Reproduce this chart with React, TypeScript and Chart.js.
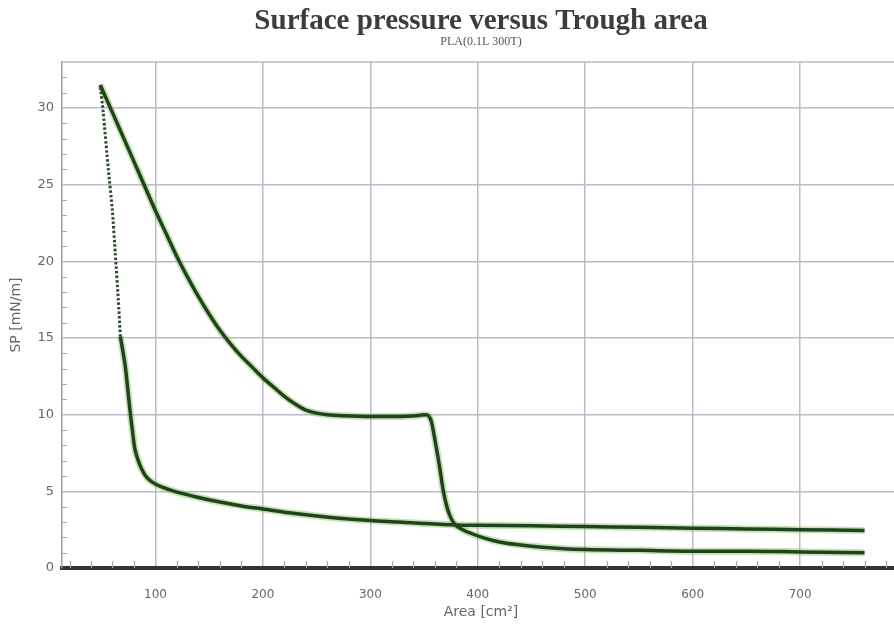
import React, { useEffect, useRef } from 'react';
import { Chart, registerables } from 'chart.js';

Chart.register(...registerables);

const TITLE = 'Surface pressure versus Trough area';
const SUBTITLE = 'PLA(0.1L 300T)';
const X_TITLE = 'Area [cm²]';
const Y_TITLE = 'SP [mN/m]';

const xMajorTicks = [100, 200, 300, 400, 500, 600, 700];
const yMajorTicks = [0, 5, 10, 15, 20, 25, 30];

// Upper loop branch: from the top down to the plateau, then the drop to ~1
const areaA = [48.6, 60, 70, 80, 90, 100, 110, 120, 130, 140, 150, 160, 170, 180, 190, 200, 210, 220, 230, 240, 250, 260, 275, 300, 325, 345, 352, 355, 357, 360, 364, 368, 373, 378, 386, 394, 404, 420, 440, 460, 480, 500, 550, 600, 650, 700, 760];
const spA = [31.5, 29.7, 28.1, 26.5, 24.9, 23.3, 21.8, 20.3, 18.95, 17.7, 16.55, 15.5, 14.6, 13.8, 13.1, 12.4, 11.8, 11.2, 10.7, 10.3, 10.1, 10.0, 9.93, 9.88, 9.88, 9.95, 10.0, 9.85, 9.5, 8.4, 6.8, 5.0, 3.6, 2.9, 2.5, 2.25, 2.0, 1.7, 1.5, 1.35, 1.25, 1.2, 1.15, 1.1, 1.1, 1.05, 1.0];

// Lower branch: slow rise from the right, then the steep rise at small area
const areaB = [760, 700, 650, 600, 550, 500, 450, 400, 380, 350, 326, 300, 263, 230, 200, 180, 160, 140, 120, 105, 97, 92, 89, 85, 81, 79, 76.6, 74, 72, 69.5, 67.3];
const spB = [2.45, 2.5, 2.55, 2.6, 2.65, 2.7, 2.75, 2.78, 2.8, 2.9, 3.0, 3.1, 3.3, 3.55, 3.85, 4.05, 4.3, 4.6, 4.95, 5.3, 5.6, 5.9, 6.2, 6.8, 7.7, 8.7, 10.1, 11.8, 13.1, 14.2, 15.1];

// Steep, dotted part of the lower branch
const areaBSteep = [67.3, 65.4, 62.6, 59.8, 56.1, 51.4, 48.6];
const spBSteep = [15.1, 17.5, 20.5, 23.4, 26.0, 29.7, 31.5];

const toPts = (xs: number[], ys: number[]) => xs.map((x, i) => ({ x, y: ys[i] }));

const CORE = '#22421f';
const GLOW = 'rgba(110,185,70,0.4)';
const GRID = '#bcbcc8';

const extrasPlugin = {
  id: 'extras',
  beforeDatasetsDraw(chart: any) {
    const { ctx, chartArea, scales } = chart;
    const xs = scales.x;
    const ys = scales.y;
    ctx.save();
    ctx.strokeStyle = GRID;
    ctx.lineWidth = 1.5;
    ctx.beginPath();
    ctx.moveTo(chartArea.left, chartArea.top);
    ctx.lineTo(chartArea.right, chartArea.top);
    ctx.lineTo(chartArea.right, chartArea.bottom);
    ctx.stroke();
    ctx.strokeStyle = '#a6a6b2';
    ctx.lineWidth = 1.2;
    ctx.beginPath();
    for (let v = 1; v < 33; v++) {
      if (v % 5 === 0) continue;
      const py = Math.round(ys.getPixelForValue(v)) + 0.5;
      ctx.moveTo(chartArea.left, py);
      ctx.lineTo(chartArea.left + 5, py);
    }
    for (let v = 20; v < 800; v += 20) {
      if (v % 100 === 0) continue;
      const px = Math.round(xs.getPixelForValue(v)) + 0.5;
      if (px < chartArea.left || px > chartArea.right) continue;
      ctx.moveTo(px, chartArea.bottom);
      ctx.lineTo(px, chartArea.bottom - 7);
    }
    ctx.stroke();
    ctx.restore();
  },
};

export default function App() {
  const ref = useRef<HTMLCanvasElement | null>(null);

  useEffect(() => {
    if (!ref.current) return;
    const chart = new Chart(ref.current, {
      type: 'line',
      data: {
        datasets: [
          { data: toPts(areaA, spA), borderColor: GLOW, borderWidth: 7, pointRadius: 0, cubicInterpolationMode: 'monotone', order: 3 },
          { data: toPts(areaB, spB), borderColor: GLOW, borderWidth: 7, pointRadius: 0, tension: 0.3, order: 3 },
          { data: toPts(areaA, spA), borderColor: CORE, borderWidth: 3.5, pointRadius: 0, cubicInterpolationMode: 'monotone', order: 1 },
          { data: toPts(areaB, spB), borderColor: CORE, borderWidth: 3.5, pointRadius: 0, tension: 0.3, order: 1 },
          { data: toPts(areaBSteep, spBSteep), borderColor: '#2e4c2b', borderWidth: 3, borderDash: [2.5, 2], pointRadius: 0, tension: 0.2, order: 1 },
        ],
      },
      options: {
        responsive: false,
        animation: false,
        events: [],
        layout: { padding: 0 },
        plugins: {
          legend: { display: false },
          tooltip: { enabled: false },
          title: {
            display: true,
            text: TITLE,
            fullSize: false,
            color: '#3c3c3c',
            font: { family: 'Liberation Serif', size: 29, weight: 'bold', lineHeight: 1 },
            padding: { top: 7, bottom: 0 },
          },
          subtitle: {
            display: true,
            text: SUBTITLE,
            fullSize: false,
            color: '#555',
            font: { family: 'Liberation Serif', size: 12, lineHeight: 1 },
            padding: { top: 0, bottom: 14 },
          },
        },
        scales: {
          x: {
            type: 'linear',
            min: 13,
            max: 793,
            afterFit: (s: any) => { s.height = 58; },
            afterBuildTicks: (s: any) => { s.ticks = xMajorTicks.map((value) => ({ value })); },
            grid: { color: GRID, lineWidth: 1.5, drawTicks: false },
            border: { color: '#333', width: 4 },
            ticks: { color: '#666', padding: 20, font: { family: 'DejaVu Sans', size: 12 }, maxRotation: 0 },
            title: { display: true, text: X_TITLE, color: '#666', font: { family: 'DejaVu Sans', size: 14, lineHeight: 1.2 }, padding: { top: 0, bottom: 5 } },
          },
          y: {
            type: 'linear',
            min: 0,
            max: 33,
            afterFit: (s: any) => { s.width = 62; },
            afterBuildTicks: (s: any) => { s.ticks = yMajorTicks.map((value) => ({ value })); },
            grid: { color: GRID, lineWidth: 1.5, drawTicks: false },
            border: { color: '#a0a0ac', width: 1.5 },
            ticks: { color: '#666', padding: 8, font: { family: 'DejaVu Sans', size: 13 } },
            title: { display: true, text: Y_TITLE, color: '#666', font: { family: 'DejaVu Sans', size: 14, lineHeight: 1.2 }, padding: { top: 8, bottom: 0 } },
          },
        },
      },
      plugins: [extrasPlugin],
    } as any);
    return () => chart.destroy();
  }, []);

  return (
    <div style={{ position: 'fixed', left: 0, top: 0, width: 894, height: 626, overflow: 'hidden', background: '#fff' }}>
      <canvas ref={ref} width={900} height={626} style={{ display: 'block', width: 900, height: 626 }} />
    </div>
  );
}
